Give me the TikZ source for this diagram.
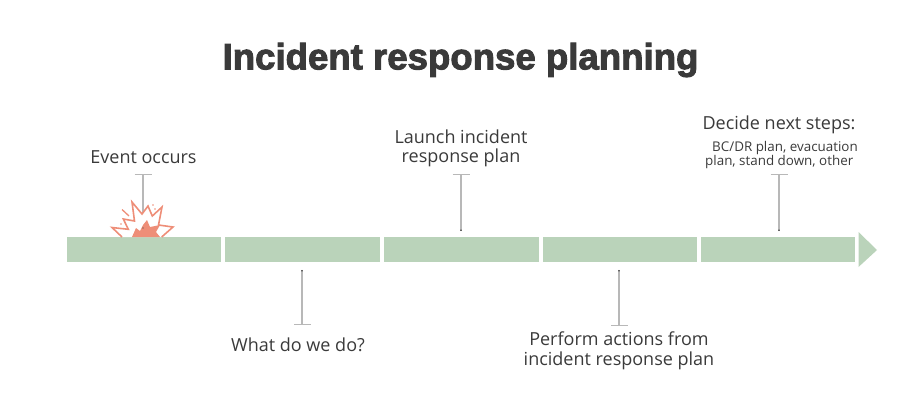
\documentclass[tikz,border=0pt]{standalone}
\usepackage{fontspec}
\setmainfont{Open Sans}
\newfontfamily\titlefont[FakeBold=2.6]{Liberation Sans Bold}
\usetikzlibrary{arrows.meta}
\definecolor{barg}{HTML}{BAD3BA}
\definecolor{ink}{HTML}{3A3A3A}
\definecolor{leader}{HTML}{B8B8B8}
\definecolor{burst}{HTML}{EE8E78}
\tikzset{
  x=1pt,y=-1pt,
  seg/.style={fill=barg,draw=none,minimum height=25pt,inner sep=0pt,outer sep=0pt,anchor=north west},
  lab/.style={text=ink,font=\fontsize{18}{19.5}\selectfont,align=center,inner sep=0pt},
  sub/.style={text=ink,font=\fontsize{13.4}{14.5}\selectfont,align=left,inner sep=0pt},
  leadline/.style={draw=leader,line width=1.1pt,{Bar[width=17pt,length=1pt]}-{Circle[length=1.5pt,ink]}},
}
\begin{document}
\begin{tikzpicture}
\useasboundingbox (0,0) rectangle (913,400);
\node[seg,minimum width=154pt] (s1) at (67,237) {};
\node[seg,minimum width=155pt] (s2) at (225,237) {};
\node[seg,minimum width=155pt] (s3) at (384,237) {};
\node[seg,minimum width=154pt] (s4) at (543,237) {};
\node[seg,minimum width=154pt] (s5) at (701,237) {};
\fill[barg] (858.5,232) -- (877,250) -- (858.5,267) -- cycle;
\node[text=ink,font=\titlefont\fontsize{36.6}{40}\selectfont,inner sep=0pt] (title) at (460.5,60) {Incident response planning};
\node[lab] (t1) at (143.5,157) {Event occurs};
\node[lab] (t2) at (298,344.5) {What do we do?};
\node[lab] (t3) at (461,148.5) {Launch incident\\response plan};
\node[lab] (t4) at (619,351) {Perform actions from\\incident response plan};
\node[lab] (t5) at (779,124.5) {Decide next steps:};
\node[sub,anchor=north west] (t5b) at (705,141) {\hspace*{7pt}BC/DR plan, evacuation\\plan, stand down, other};
\coordinate (c1a) at (143,174); \coordinate (c1b) at (143,228);
\coordinate (c2a) at (302,325); \coordinate (c2b) at (302,270);
\coordinate (c3a) at (461,174); \coordinate (c3b) at (461,231);
\coordinate (c4a) at (619,326); \coordinate (c4b) at (619,270);
\coordinate (c5a) at (779,174); \coordinate (c5b) at (779,231);
\draw[leadline] (c1a) -- (c1b);
\draw[leadline] (c2a) -- (c2b);
\draw[leadline] (c3a) -- (c3b);
\draw[leadline] (c4a) -- (c4b);
\draw[leadline] (c5a) -- (c5b);
% burst
\draw[burst,line width=1.6pt,fill=white,line join=miter]
 (122,237) -- (112,227.5) -- (128.3,229.3) -- (123.3,219) -- (134.5,221) -- (132,202) -- (142,214)
 -- (148,206) -- (152.3,216) -- (162,207) -- (158.5,225) -- (173,227) -- (161.7,237);
\fill[burst] (132,237) -- (136,228) -- (140,231) -- (143,225) -- (147,220) -- (150,227) -- (155,226) -- (160,225) -- (156,232) -- (160,237) -- cycle;
\draw[burst,line width=1.3pt] (122,209.5) -- (129,216);
\fill[burst] (153,205) circle (0.8) (155,209) circle (0.8) (121,224) circle (0.8);
\fill[ink] (143,228) circle (0.7);
\end{tikzpicture}
\end{document}
